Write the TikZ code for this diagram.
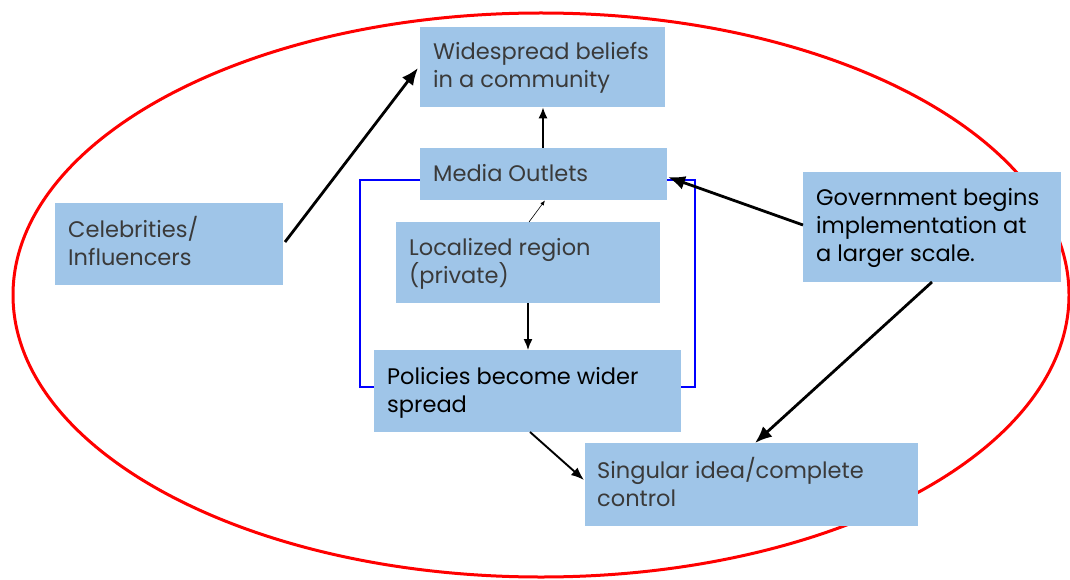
\documentclass[tikz,border=0pt]{standalone}
\usepackage{fontspec}
\setmainfont{Poppins}
\usetikzlibrary{arrows.meta}
\definecolor{boxfill}{HTML}{9FC5E8}
\definecolor{txt}{HTML}{3A3A3A}
\begin{document}
\begin{tikzpicture}[x=1pt,y=-1pt,
  box/.style={fill=boxfill, draw=none, inner sep=0pt, anchor=north west},
  lbl/.style={anchor=base west, align=left, font=\fontsize{22.5}{28}\selectfont, text=txt, inner sep=0pt},
  thick arrow/.style={line width=2.8pt, -{Latex[length=17pt,width=14pt]}},
  mid arrow/.style={line width=1.9pt, -{Latex[length=13pt,width=10pt]}},
  thin arrow/.style={line width=1.4pt, -{Latex[length=11pt,width=9pt]}},
  tiny arrow/.style={line width=0.6pt, -{Latex[length=5pt,width=4pt]}},
  loop/.style={draw=blue, line width=1.8pt}]
\useasboundingbox (0,0) rectangle (1070,580);
\fill[white] (0,0) rectangle (1070,580);
\draw[red, line width=3pt] (541,295) ellipse [x radius=528, y radius=282];
% blue loop
\draw[loop] (420,180) -- (360,180) -- (360,387) -- (374,387);
\draw[loop] (667,180) -- (695,180) -- (695,387) -- (681,387);
% boxes
\node[box, minimum width=245pt, minimum height=80pt] (ws) at (420,27) {};
\node[box, minimum width=247pt, minimum height=52pt] (mo) at (420,148) {};
\node[box, minimum width=264pt, minimum height=81pt] (lr) at (396,222) {};
\node[box, minimum width=307pt, minimum height=82pt] (po) at (374,350) {};
\node[box, minimum width=333pt, minimum height=83pt] (si) at (585,443) {};
\node[box, minimum width=228pt, minimum height=82pt] (ce) at (55,203) {};
\node[box, minimum width=258pt, minimum height=110pt] (go) at (803,172) {};
% texts (anchored at the baseline of the last line)
\node[lbl] (wst) at (433,88) {Widespread beliefs\\in a community};
\node[lbl] (mot) at (433,182) {Media Outlets};
\node[lbl] (lrt) at (409,283) {Localized region\\(private)};
\node[lbl, text=black] (pot) at (387,412) {Policies become wider\\spread};
\node[lbl] (sit) at (597,506) {Singular idea/complete\\control};
\node[lbl] (cet) at (68,265) {Celebrities/\\Influencers};
\node[lbl, text=black] (got) at (816,261) {Government begins\\implementation at\\a larger scale.};
% connectors
\coordinate (ceo) at (285,242);
\coordinate (wsi) at (418,68);
\draw[thick arrow] (ceo) -- (wsi);
\draw[thin arrow] (mo.north -| 543,0) -- (ws.south -| 543,0);
\draw[tiny arrow] (lr.north -| 529,0) -- (mo.south -| 545,0);
\draw[thin arrow] (lr.south -| 528,0) -- (po.north -| 528,0);
\coordinate (goa) at (803,225);
\coordinate (moa) at (668,177);
\draw[thick arrow] (goa) -- (moa);
\coordinate (gob) at (932,282);
\coordinate (sia) at (755,443);
\draw[thick arrow] (gob) -- (sia);
\coordinate (poa) at (530,432);
\coordinate (sib) at (584,480);
\draw[mid arrow] (poa) -- (sib);
\end{tikzpicture}
\end{document}
